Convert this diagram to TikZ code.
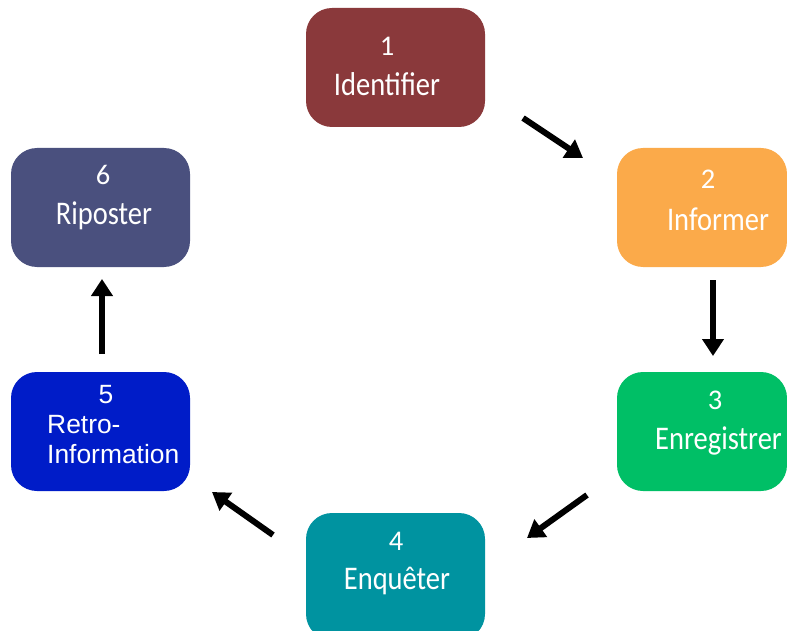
\documentclass[tikz,border=0pt]{standalone}
\usepackage{fontspec}
\usepackage{graphicx}
\setmainfont{Carlito}
\newfontfamily\arialf{Liberation Sans}
\usetikzlibrary{arrows.meta}
\definecolor{cOne}{HTML}{8A393B}
\definecolor{cTwo}{HTML}{FBAA4A}
\definecolor{cThree}{HTML}{00BF66}
\definecolor{cFour}{HTML}{0093A0}
\definecolor{cFive}{HTML}{001CC8}
\definecolor{cSix}{HTML}{4A507E}
\newcommand{\tallw}[1]{\scalebox{1}[1.16]{#1}}
\tikzset{
  stepbox/.style={rounded corners=26pt, draw=none},
  lbl/.style={text=white, inner sep=0pt, font=\fontsize{28.5}{34}\selectfont, anchor=base},
  lblA/.style={text=white, inner sep=0pt, font=\arialf\fontsize{26.4}{31}\selectfont, anchor=base},
  arr/.style={line width=6pt, -{Triangle[length=17pt,width=21pt]}, black}
}
\begin{document}
\begin{tikzpicture}[x=1pt,y=-1pt]
\useasboundingbox (0,0) rectangle (787,631);
% boxes
\fill[cOne, stepbox] (306,8) rectangle (485,127);
\fill[cTwo, stepbox] (617,148) rectangle (787,267);
\fill[cThree, stepbox] (617,372) rectangle (787,491);
\fill[cFour, stepbox] (306,513) rectangle (485,640);
\fill[cFive, stepbox] (11,372) rectangle (190,491);
\fill[cSix, stepbox] (11,148) rectangle (190,267);
% labels
\node[lbl] (n1) at (387,56) {1};
\node[lbl] (t1) at (387,96) {\tallw{Identifier}};
\node[lbl] (n2) at (708,189) {2};
\node[lbl] (t2) at (718,230) {\tallw{Informer}};
\node[lbl] (n3) at (715,409) {3};
\node[lbl, anchor=base west] (t3) at (655,449) {\tallw{Enregistrer}};
\node[lbl] (n4) at (396,550) {4};
\node[lbl] (t4) at (397,589) {\tallw{Enquêter}};
\node[lblA] (n5) at (106,403) {5};
\node[lblA, anchor=base west] (t5a) at (47,433) {Retro-};
\node[lblA, anchor=base west] (t5b) at (47,463) {Information};
\node[lbl] (n6) at (103,185) {6};
\node[lbl] (t6) at (104,225) {\tallw{Riposter}};
% arrow end points
\coordinate (a1s) at (523,118); \coordinate (a1e) at (583,158);
\coordinate (a2s) at (713,280); \coordinate (a2e) at (713,356);
\coordinate (a3s) at (587,495); \coordinate (a3e) at (527,538);
\coordinate (a4s) at (273,535); \coordinate (a4e) at (212,492);
\coordinate (a5s) at (102,354); \coordinate (a5e) at (102,279);
\draw[arr] (a1s) -- (a1e);
\draw[arr] (a2s) -- (a2e);
\draw[arr] (a3s) -- (a3e);
\draw[arr] (a4s) -- (a4e);
\draw[arr] (a5s) -- (a5e);
\end{tikzpicture}
\end{document}
